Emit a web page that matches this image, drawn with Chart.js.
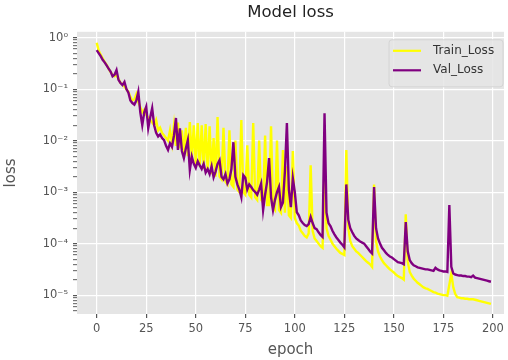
<!DOCTYPE html>
<html><head><meta charset="utf-8">
<script src="https://cdn.jsdelivr.net/npm/chart.js@4.4.0/dist/chart.umd.min.js"></script>
<style>html,body{margin:0;padding:0;background:#fff;overflow:hidden}#wrap{width:508px;height:360px}</style>
</head><body><div id="wrap"><canvas id="c" width="508" height="360"></canvas></div>
<script>
// x categories: epochs 0..199
const epochs = Array.from({length: 200}, (_, i) => i);
// losses, stored as log10(loss)
const trainLossLog10 = [
-0.10,-0.25,-0.33,-0.40,-0.47,-0.53,-0.60,-0.67,-0.72,-0.75,
-0.72,-0.80,-0.88,-0.90,-0.95,-1.00,-1.05,-1.15,-1.22,-1.20,
-1.10,-1.25,-1.35,-1.45,-1.40,-1.50,-1.55,-1.60,-1.65,-1.70,
-1.60,-1.80,-1.75,-1.85,-1.90,-1.95,-2.00,-1.80,-2.05,-1.70,
-2.10,-1.65,-2.15,-1.80,-2.25,-1.75,-2.30,-1.64,-2.35,-1.70,
-2.45,-1.66,-2.50,-1.70,-2.55,-1.68,-2.60,-1.72,-2.65,-1.95,
-2.70,-1.54,-2.70,-2.75,-1.75,-2.80,-2.85,-1.80,-2.85,-2.90,
-2.00,-2.95,-3.00,-1.60,-3.00,-3.05,-2.09,-3.05,-3.10,-1.66,
-3.10,-3.15,-2.00,-3.15,-3.20,-1.90,-3.25,-3.25,-1.72,-3.30,
-3.35,-2.00,-3.35,-3.40,-2.18,-3.40,-2.50,-3.45,-3.50,-2.20,
-3.50,-3.60,-3.65,-3.75,-3.80,-3.85,-3.88,-3.80,-2.48,-3.75,
-3.90,-3.95,-4.00,-4.05,-4.08,-2.67,-3.70,-3.85,-3.92,-4.00,
-4.05,-4.10,-4.14,-4.18,-4.20,-4.22,-2.18,-3.70,-3.95,-4.05,
-4.10,-4.15,-4.18,-4.22,-4.26,-4.30,-4.34,-4.37,-4.40,-4.45,
-2.85,-3.95,-4.15,-4.25,-4.32,-4.38,-4.42,-4.46,-4.50,-4.53,
-4.56,-4.60,-4.63,-4.65,-4.67,-4.70,-3.43,-4.35,-4.55,-4.62,
-4.68,-4.72,-4.76,-4.79,-4.82,-4.85,-4.87,-4.88,-4.90,-4.92,
-4.94,-4.95,-4.97,-4.98,-4.99,-5.00,-5.00,-5.01,-4.80,-4.58,
-4.85,-4.98,-5.04,-5.05,-5.06,-5.06,-5.07,-5.07,-5.08,-5.08,
-5.08,-5.09,-5.10,-5.11,-5.12,-5.13,-5.14,-5.15,-5.16,-5.17
];
const valLossLog10 = [
-0.24,-0.30,-0.36,-0.43,-0.48,-0.54,-0.60,-0.66,-0.75,-0.72,
-0.63,-0.82,-0.88,-0.92,-0.86,-1.00,-1.07,-1.22,-1.27,-1.30,
-1.22,-1.05,-1.45,-1.70,-1.45,-1.34,-1.76,-1.55,-1.37,-1.70,
-1.85,-1.92,-1.88,-1.95,-1.99,-2.10,-2.18,-2.05,-2.12,-1.90,
-1.56,-2.18,-1.76,-2.20,-2.34,-2.15,-1.99,-2.57,-2.31,-2.45,
-2.53,-2.40,-2.48,-2.55,-2.45,-2.62,-2.55,-2.65,-2.50,-2.71,
-2.60,-2.45,-2.38,-2.70,-2.75,-2.65,-2.83,-2.75,-2.55,-2.03,
-2.70,-2.85,-2.95,-3.10,-2.67,-2.72,-2.95,-2.85,-2.90,-2.96,
-3.00,-3.05,-2.95,-2.83,-3.35,-3.05,-2.80,-2.34,-3.10,-3.35,
-3.15,-3.00,-2.90,-3.29,-3.20,-2.60,-1.66,-2.95,-3.29,-2.73,
-3.00,-3.39,-3.45,-3.55,-3.60,-3.64,-3.66,-3.62,-3.48,-3.60,
-3.70,-3.72,-3.78,-3.83,-3.87,-1.47,-3.40,-3.60,-3.66,-3.75,
-3.82,-3.88,-3.93,-3.98,-4.02,-4.07,-2.85,-3.54,-3.70,-3.78,
-3.85,-3.90,-3.93,-3.96,-3.98,-4.00,-4.05,-4.10,-4.15,-4.19,
-2.90,-3.70,-3.90,-4.00,-4.08,-4.13,-4.18,-4.22,-4.25,-4.27,
-4.30,-4.33,-4.36,-4.37,-4.38,-4.40,-3.58,-4.15,-4.32,-4.38,
-4.42,-4.44,-4.46,-4.47,-4.48,-4.49,-4.50,-4.50,-4.51,-4.52,
-4.53,-4.47,-4.50,-4.52,-4.53,-4.54,-4.54,-4.55,-3.25,-4.45,
-4.58,-4.60,-4.61,-4.62,-4.62,-4.63,-4.63,-4.64,-4.64,-4.65,
-4.62,-4.66,-4.67,-4.68,-4.69,-4.70,-4.71,-4.72,-4.73,-4.74
];
const xTickValues = [0, 25, 50, 75, 100, 125, 150, 175, 200];
const yDecades = [-6, -5, -4, -3, -2, -1, 0];
const seriesNames = ['Train_Loss', 'Val_Loss'];
const seriesColors = ['#ffff00', '#800080'];

const SUP = {'0':'⁰','1':'¹','2':'²','3':'³','4':'⁴','5':'⁵','6':'⁶','7':'⁷','8':'⁸','9':'⁹','-':'⁻'};
const supStr = s => String(s).split('').map(c => SUP[c] || c).join('');
const isDecade = v => Math.abs(Math.log10(v) - Math.round(Math.log10(v))) < 1e-6;
const FONT = "'DejaVu Sans', sans-serif";

const plotBg = {
  id: 'plotBg',
  beforeDraw(chart) {
    const {ctx, chartArea: a} = chart;
    ctx.save();
    ctx.fillStyle = '#e5e5e5';
    ctx.fillRect(a.left, a.top, a.right - a.left, a.bottom - a.top);
    ctx.restore();
  }
};

const insideLegend = {
  id: 'insideLegend',
  afterDatasetsDraw(chart) {
    const {ctx, chartArea: a} = chart;
    const w = 114, h = 47;
    const x0 = a.right - w - 1, y0 = a.top + 8;
    ctx.save();
    ctx.beginPath();
    ctx.roundRect(x0, y0, w, h, 3);
    ctx.fillStyle = 'rgba(229,229,229,0.85)';
    ctx.fill();
    ctx.strokeStyle = '#d4d4d4';
    ctx.lineWidth = 1;
    ctx.stroke();
    chart.data.datasets.forEach((ds, i) => {
      const y = y0 + 11 + i * 19.5;
      ctx.beginPath();
      ctx.strokeStyle = ds.borderColor;
      ctx.lineWidth = 2.2;
      ctx.moveTo(x0 + 4, y);
      ctx.lineTo(x0 + 32, y);
      ctx.stroke();
      ctx.fillStyle = '#333';
      ctx.font = '12px ' + FONT;
      ctx.textBaseline = 'middle';
      ctx.textAlign = 'left';
      ctx.fillText(ds.label, x0 + 44, y);
    });
    ctx.restore();
  }
};

const mk = arr => epochs.map((e, i) => ({x: e, y: Math.pow(10, arr[i])}));

new Chart(document.getElementById('c'), {
  type: 'line',
  data: {
    datasets: [
      {label: seriesNames[0], data: mk(trainLossLog10), borderColor: seriesColors[0], borderWidth: 2.4, pointRadius: 0, tension: 0, order: 1},
      {label: seriesNames[1], data: mk(valLossLog10), borderColor: seriesColors[1], borderWidth: 2.4, pointRadius: 0, tension: 0, order: 0}
    ]
  },
  options: {
    responsive: false,
    devicePixelRatio: 1,
    animation: false,
    layout: {padding: 0},
    plugins: {
      legend: {display: false},
      tooltip: {enabled: false},
      title: {
        display: true, text: 'Model loss', color: '#222', fullSize: false,
        font: {family: FONT, size: 16.5, weight: 'normal', lineHeight: 1.2},
        padding: {top: 3, bottom: 9}
      }
    },
    scales: {
      x: {
        type: 'linear', min: -9.95, max: 205.6,
        border: {display: false},
        grid: {color: '#ffffff', lineWidth: 1.2, drawTicks: true, tickLength: 4, tickColor: '#555'},
        afterBuildTicks: s => { s.ticks = xTickValues.map(v => ({value: v})); },
        afterFit: s => { s.height = 46; },
        ticks: {color: '#555', font: {family: FONT, size: 11.5}, padding: 4, maxRotation: 0, autoSkip: false,
          callback: v => String(v)},
        title: {display: true, text: 'epoch', color: '#555', font: {family: FONT, size: 15}, padding: {top: 0, bottom: 1}}
      },
      y: {
        type: 'logarithmic', min: 4.3e-6, max: 1.3,
        border: {display: false},
        grid: {
          color: c => (c.tick && isDecade(c.tick.value)) ? '#ffffff' : 'rgba(0,0,0,0)',
          lineWidth: 1.2, drawTicks: true, tickLength: 4,
          tickColor: c => (c.tick && isDecade(c.tick.value)) ? '#555' : '#777'
        },
        afterBuildTicks: s => {
          const t = [];
          yDecades.forEach(e => { for (let m = 1; m <= 9; m++) { const v = m * Math.pow(10, e); if (v >= s.min && v <= s.max) t.push({value: v, major: m === 1}); } });
          s.ticks = t;
        },
        afterFit: s => { s.width = 77; },
        ticks: {color: '#555', font: {family: FONT, size: 11.5}, padding: 5, autoSkip: false,
          callback: v => isDecade(v) ? '10' + supStr(Math.round(Math.log10(v))) : ''},
        title: {display: true, text: 'loss', color: '#555', font: {family: FONT, size: 15}, padding: {top: 2, bottom: 0}}
      }
    }
  },
  plugins: [plotBg, insideLegend]
});
</script></body></html>
